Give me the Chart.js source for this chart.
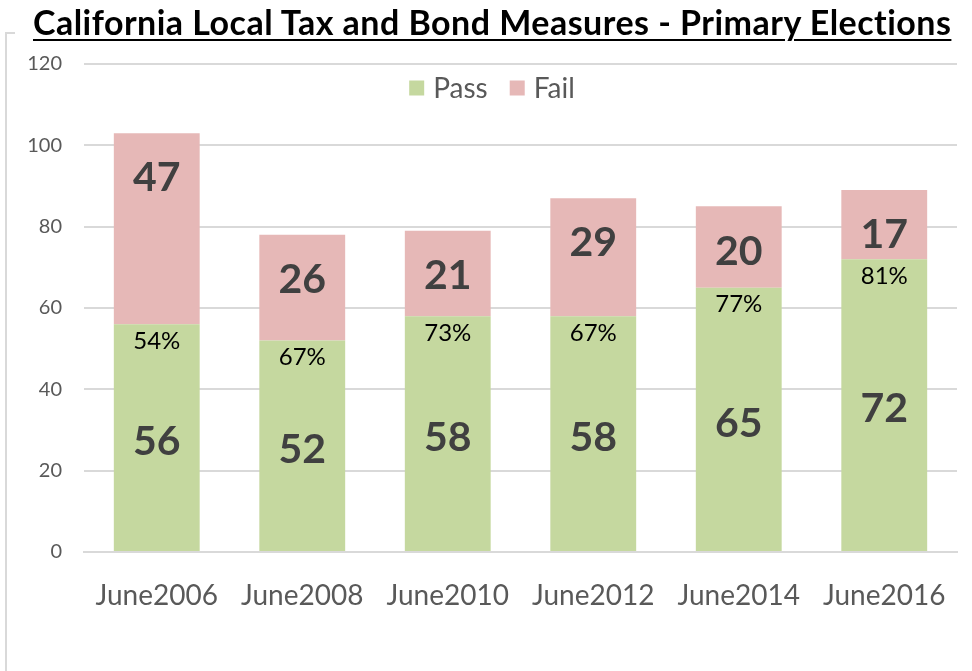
<!DOCTYPE html>
<html>
<head>
<meta charset="utf-8">
<script src="https://cdn.jsdelivr.net/npm/chart.js@4"></script>
<style>
  html, body { margin: 0; padding: 0; background: #fff; }
  #wrap { position: relative; width: 972px; height: 671px; overflow: hidden; }
  #frame { position: absolute; left: 5px; top: 32px; width: 8px; height: 700px;
           border-left: 2px solid #d9d9d9; border-top: 2px solid #d9d9d9; }
  #title { position: absolute; left: 33px; top: 1px; white-space: nowrap;
           font-family: Lato, "Open Sans", sans-serif; font-weight: bold; font-size: 32px;
           color: #000; text-decoration: underline; text-decoration-thickness: 2px;
           text-underline-offset: 4px; }
  canvas { position: absolute; left: 0; top: 0; }
</style>
</head>
<body>
<div id="wrap">
  <div id="frame"></div>
  <canvas id="myChart" width="972" height="671"></canvas>
  <div id="title">California Local Tax and Bond Measures - Primary Elections</div>
</div>
<script>
// data
const categories = ['June2006', 'June2008', 'June2010', 'June2012', 'June2014', 'June2016'];
const passValues = [56, 52, 58, 58, 65, 72];
const failValues = [47, 26, 21, 29, 20, 17];
const passRates = ['54%', '67%', '73%', '67%', '77%', '81%'];
const yTicks = [0, 20, 40, 60, 80, 100, 120];

// fit the title to the reference width: a bit of size, the rest spacing
const title = document.getElementById('title');
const want = 919;
let have = title.getBoundingClientRect().width;
let size = Math.min(34, 32 * want / have);
title.style.fontSize = size + 'px';
have = title.getBoundingClientRect().width;
title.style.letterSpacing = ((want - have) / title.textContent.length) + 'px';

const fontFam = 'Lato, "Open Sans", sans-serif';

// labels inside the bars + the legend
const barLabels = {
    id: 'barLabels',
    afterDatasetsDraw(chart) {
        const ctx = chart.ctx;
        const pass = chart.getDatasetMeta(0).data;
        const fail = chart.getDatasetMeta(1).data;
        ctx.save();
        ctx.textAlign = 'center';
        ctx.textBaseline = 'middle';
        pass.forEach((bar, i) => {
            ctx.fillStyle = '#404040';
            ctx.font = 'bold 41px ' + fontFam;
            ctx.fillText(passValues[i], bar.x, (bar.y + bar.base) / 2 + 4);
            ctx.fillStyle = '#000';
            ctx.font = '24px ' + fontFam;
            ctx.fillText(passRates[i], bar.x, bar.y + 17);
        });
        fail.forEach((bar, i) => {
            ctx.fillStyle = '#404040';
            ctx.font = 'bold 41px ' + fontFam;
            ctx.fillText(failValues[i], bar.x, bar.y + 45);
        });

        // legend, centred on the canvas inside the plot
        ctx.font = '28px ' + fontFam;
        ctx.textAlign = 'left';
        const sets = chart.data.datasets;
        const box = 15, gap = 9, between = 22;
        let total = 0;
        sets.forEach((s, i) => {
            total += box + gap + ctx.measureText(s.label).width + (i ? between : 0);
        });
        let x = 492 - total / 2;
        const y = 88;
        sets.forEach((s) => {
            ctx.fillStyle = s.backgroundColor;
            ctx.fillRect(x, y - box / 2, box, box);
            x += box + gap;
            ctx.fillStyle = '#595959';
            ctx.fillText(s.label, x, y + 1);
            x += ctx.measureText(s.label).width + between;
        });
        ctx.restore();
    }
};

const data = {
    labels: categories,
    datasets: [{
        label: 'Pass',
        data: passValues,
        backgroundColor: '#c5d89f',
        borderWidth: 0
    }, {
        label: 'Fail',
        data: failValues,
        backgroundColor: '#e6b8b7',
        borderWidth: 0
    }]
};

const config = {
    type: 'bar',
    data: data,
    options: {
        responsive: false,
        animation: false,
        layout: { padding: { top: 64, right: 15, left: 0, bottom: 0 } },
        datasets: { bar: { categoryPercentage: 1, barPercentage: 0.59 } },
        plugins: {
            title: { display: false },
            tooltip: { enabled: false },
            legend: { display: false }
        },
        scales: {
            x: {
                stacked: true,
                grid: { display: false },
                border: { display: true, color: '#d9d9d9', width: 2 },
                ticks: { color: '#595959', padding: 19, font: { family: fontFam, size: 28 } },
                afterFit(scale) { scale.height = 119; }
            },
            y: {
                stacked: true,
                min: 0,
                max: 120,
                afterBuildTicks(scale) { scale.ticks = yTicks.map(v => ({ value: v })); },
                grid: { color: '#d9d9d9', lineWidth: 2, drawTicks: false },
                border: { display: false },
                ticks: { color: '#595959', padding: 22, font: { family: fontFam, size: 20 } },
                afterFit(scale) { scale.width = 84; }
            }
        }
    },
    plugins: [barLabels]
};

const myChart = new Chart(document.getElementById('myChart'), config);
</script>
</body>
</html>
